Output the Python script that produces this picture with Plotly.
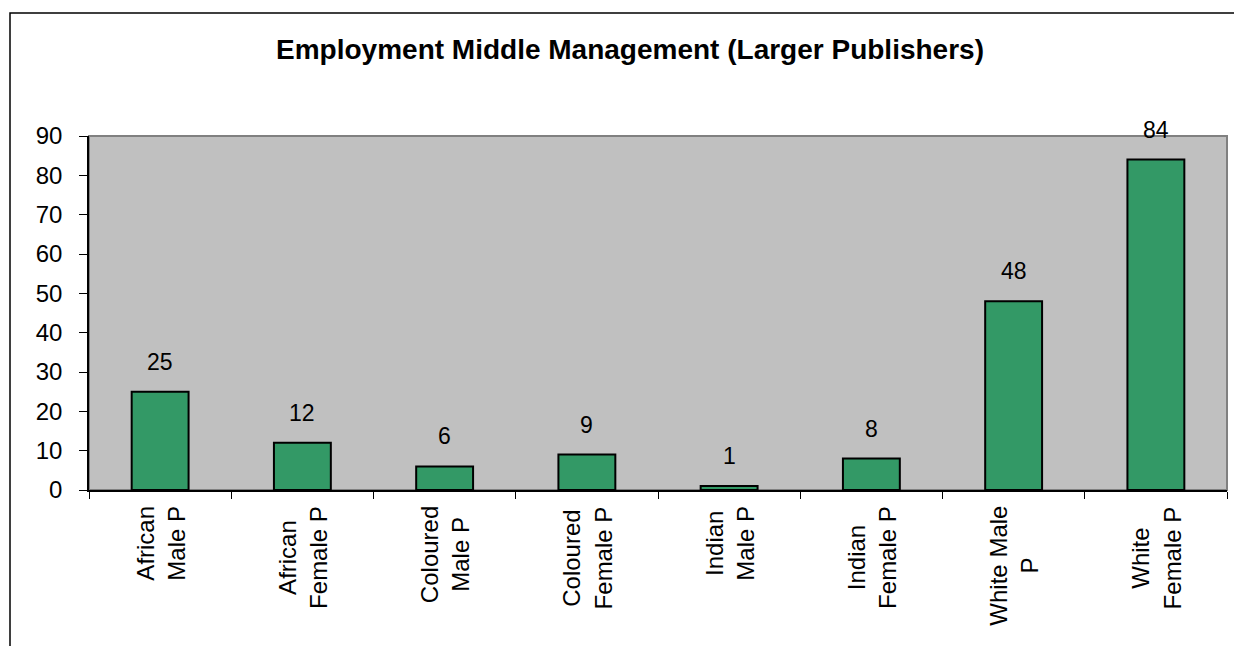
import plotly.graph_objects as go

# Middle-management headcount by group (larger publishers)
categories = [
    "African Male P", "African Female P", "Coloured Male P", "Coloured Female P",
    "Indian Male P", "Indian Female P", "White Male P", "White Female P",
]
axis_labels = [
    "African<br>Male P", "African<br>Female P", "Coloured<br>Male P", "Coloured<br>Female P",
    "Indian<br>Male P", "Indian<br>Female P", "White Male<br>P", "White<br>Female P",
]
values = [25, 12, 6, 9, 1, 8, 48, 84]
y_ticks = [0, 10, 20, 30, 40, 50, 60, 70, 80, 90]

W, H = 1234, 646
ML, MR, MT, MB = 89, 7, 136, 156
FONT = "Liberation Sans, Arial, sans-serif"

fig = go.Figure()
fig.add_trace(go.Bar(
    x=categories,
    y=values,
    marker=dict(color="#339966", line=dict(color="black", width=2)),
    hoverinfo="x+y",
))

annotations = []
# value labels above bars
for c, v in zip(categories, values):
    annotations.append(dict(
        x=c, y=v, xref="x", yref="y", text=str(v), showarrow=False,
        yshift=30, font=dict(family=FONT, size=23, color="black"),
    ))
# rotated category labels below the axis
for c, lab in zip(categories, axis_labels):
    annotations.append(dict(
        x=c, y=0, xref="x", yref="paper", text=lab, showarrow=False,
        textangle=-90, align="center", yanchor="top", yshift=-14,
        font=dict(family=FONT, size=24, color="black"),
    ))

pw = W - ML - MR
ph = H - MT - MB
shapes = [
    # outer chart frame
    dict(type="rect", xref="paper", yref="paper",
         x0=(10 - ML) / pw, x1=(W + 20 - ML) / pw,
         y0=-(H + 20 - (H - MB)) / ph, y1=(H - MB - 13) / ph,
         line=dict(color="black", width=1.5), fillcolor="rgba(0,0,0,0)", layer="below"),
    # plot-area border (top and right)
    dict(type="rect", xref="paper", yref="paper", x0=0, x1=1, y0=0, y1=1,
         line=dict(color="#808080", width=2), fillcolor="rgba(0,0,0,0)", layer="below"),
]

fig.update_layout(
    width=W, height=H,
    margin=dict(l=ML, r=MR, t=MT, b=MB),
    paper_bgcolor="white",
    plot_bgcolor="#C0C0C0",
    showlegend=False,
    bargap=0.6,
    title=dict(
        text="<b>Employment Middle Management (Larger Publishers)</b>",
        x=630 / W, xref="container", xanchor="center",
        y=1 - 49 / H, yref="container", yanchor="middle",
        font=dict(family=FONT, size=28, color="black"),
    ),
    xaxis=dict(
        type="category", range=[-0.5, 7.5],
        showticklabels=False, showgrid=False, zeroline=False,
        showline=True, linecolor="black", linewidth=1.5,
        ticks="outside", tickson="boundaries", ticklen=7, tickcolor="black", tickwidth=1,
    ),
    yaxis=dict(
        range=[0, 90], tickvals=y_ticks, showgrid=False, zeroline=False,
        showline=True, linecolor="black", linewidth=1.5,
        ticks="outside", ticklen=8, tickcolor="black", tickwidth=1,
        ticklabelstandoff=12,
        tickfont=dict(family=FONT, size=24, color="black"),
    ),
    annotations=annotations,
    shapes=shapes,
)

fig.write_html("out.html")
